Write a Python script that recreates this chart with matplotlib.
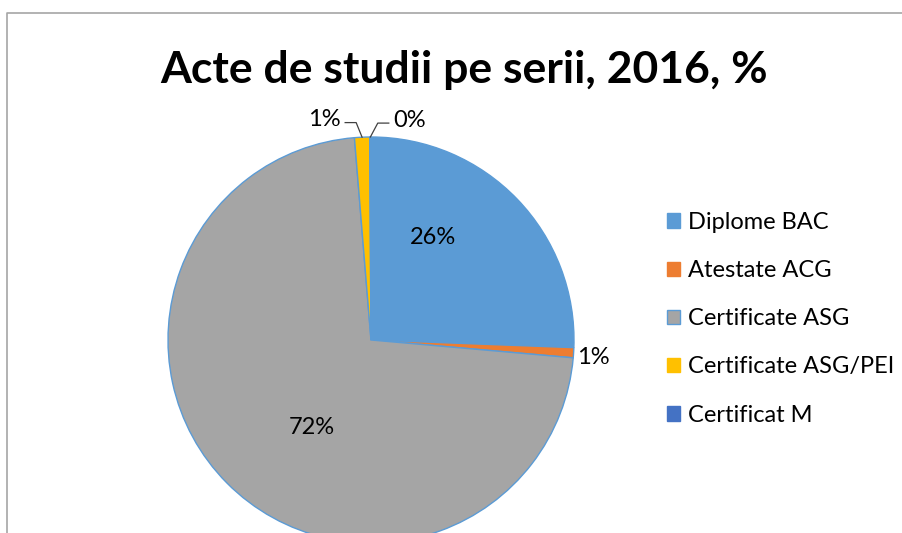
import numpy as np
import matplotlib.pyplot as plt
from matplotlib.patches import Patch

plt.rcParams['font.family'] = ['Lato', 'DejaVu Sans']

# data
labels = ['Diplome BAC', 'Atestate ACG', 'Certificate ASG', 'Certificate ASG/PEI', 'Certificat M']
values = [25.6, 0.8, 72.3, 1.2, 0.1]
colors = ['#5B9BD5', '#ED7D31', '#A5A5A5', '#FFC000', '#4472C4']

W, H = 903, 533
fig = plt.figure(figsize=(W / 100, H / 100), dpi=100)
ax = fig.add_axes([0, 0, 1, 1])

cx, cy, R = 371, H - 340, 203
wedges, _ = ax.pie(values, colors=colors, startangle=90, counterclock=False,
                   center=(cx, cy), radius=R,
                   wedgeprops=dict(edgecolor='#5B9BD5', linewidth=1.0))
ax.set_xlim(0, W)
ax.set_ylim(0, H)
ax.set_aspect('equal')
ax.axis('off')

total = sum(values)
pct = ['%d%%' % round(v / total * 100) for v in values]

# label placement (angle in deg, radius fraction)
label_pos = [(58.7, 0.59), (-4.4, 1.10), (236, 0.52), (102, 1.11), (80, 1.10)]
for i, (a, r) in enumerate(label_pos):
    x = cx + r * R * np.cos(np.radians(a))
    y = cy + r * R * np.sin(np.radians(a))
    ax.text(x, y, pct[i], ha='center', va='center', fontsize=17, color='#000000')

# leader lines for the tiny top slices
for i, side in [(3, 1), (4, -1)]:
    w = wedges[i]
    mid = np.radians((w.theta1 + w.theta2) / 2)
    a, r = label_pos[i]
    tx = cx + r * R * np.cos(np.radians(a))
    ty = cy + r * R * np.sin(np.radians(a))
    x0 = tx + side * 21
    x1 = x0 + side * 11
    ex = cx + R * np.cos(mid)
    ey = cy + R * np.sin(mid)
    ax.plot([x0, x1, ex], [ty - 3, ty - 3, ey], color='#404040', lw=0.9)

# frame (left and top edges)
ax.plot([7, 7, W], [0, H - 13, H - 13], color='#A6A6A6', lw=1.2)

fig.text(464 / W, 1 - 70 / H, 'Acte de studii pe serii, 2016, %',
         ha='center', va='center', fontsize=32, fontweight='bold')

handles = [Patch(facecolor=c, edgecolor=('#5B9BD5' if i == 2 else c))
           for i, c in enumerate(colors)]
fig.legend(handles, labels, loc='upper left', bbox_to_anchor=(667 / W, 1 - 212 / H),
           frameon=False, fontsize=17, handlelength=0.57, handleheight=0.57,
           handletextpad=0.3, labelspacing=1.15, borderpad=0, borderaxespad=0)

fig.savefig('out.png', dpi=100)
